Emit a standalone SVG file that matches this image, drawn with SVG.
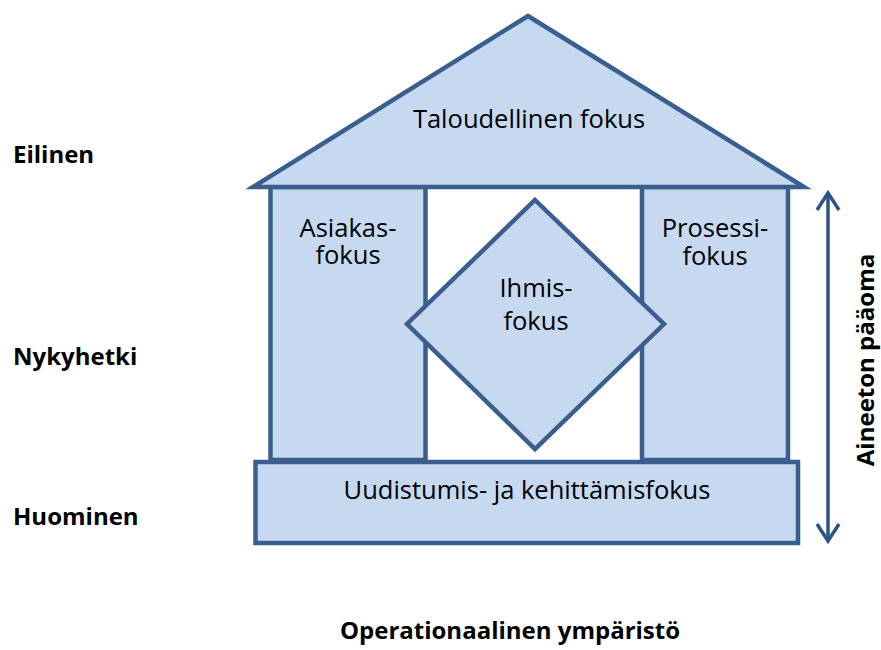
<svg xmlns="http://www.w3.org/2000/svg" width="881" height="650" viewBox="0 0 881 650">
<defs>
<style>
.shape{fill:#c6d9f1;stroke:#3a5f8e;stroke-width:4.5;stroke-linejoin:miter}
.t{font-family:"Open Sans","Liberation Sans",sans-serif;font-size:25.5px;fill:#000;text-anchor:middle}
.b{font-family:"Open Sans","Liberation Sans",sans-serif;font-size:24px;font-weight:bold;fill:#000}
.arr{fill:none;stroke:#2c5487;stroke-width:3.5}
</style>
</defs>
<rect width="881" height="650" fill="#fff"/>
<g id="asiakasfokus">
<rect class="shape" x="270.5" y="187" width="155" height="273"/>
<text class="t" x="348" y="237">Asiakas-<tspan x="348" y="264">fokus</tspan></text>
</g>
<g id="prosessifokus">
<rect class="shape" x="642" y="187" width="146" height="273"/>
<text class="t" x="715" y="237">Prosessi-<tspan x="715" y="265">fokus</tspan></text>
</g>
<g id="taloudellinen">
<polygon class="shape" points="253,187 528,16 804,187"/>
<text class="t" x="529" y="128">Taloudellinen fokus</text>
</g>
<g id="ihmisfokus">
<polygon class="shape" points="535,200 664,324 535,449 407,324"/>
<text class="t" x="536" y="297">Ihmis-<tspan x="536" y="330">fokus</tspan></text>
</g>
<g id="uudistumis">
<rect class="shape" x="255.5" y="462" width="542.5" height="81"/>
<text class="t" x="527" y="499">Uudistumis- ja kehittämisfokus</text>
</g>
<g id="connectors">
<line class="arr" x1="828" y1="193" x2="828" y2="541"/>
<polyline class="arr" points="817,210 828,193 839,210"/>
<polyline class="arr" points="817,524 828,541 839,524"/>
</g>
<g id="labels">
<text class="b" x="13" y="163">Eilinen</text>
<text class="b" x="13" y="365">Nykyhetki</text>
<text class="b" x="13" y="525">Huominen</text>
<text class="b" x="510" y="639" text-anchor="middle">Operationaalinen ympäristö</text>
<text class="b" x="874" y="360" text-anchor="middle" transform="rotate(-90 874 360)">Aineeton pääoma</text>
</g>
</svg>
